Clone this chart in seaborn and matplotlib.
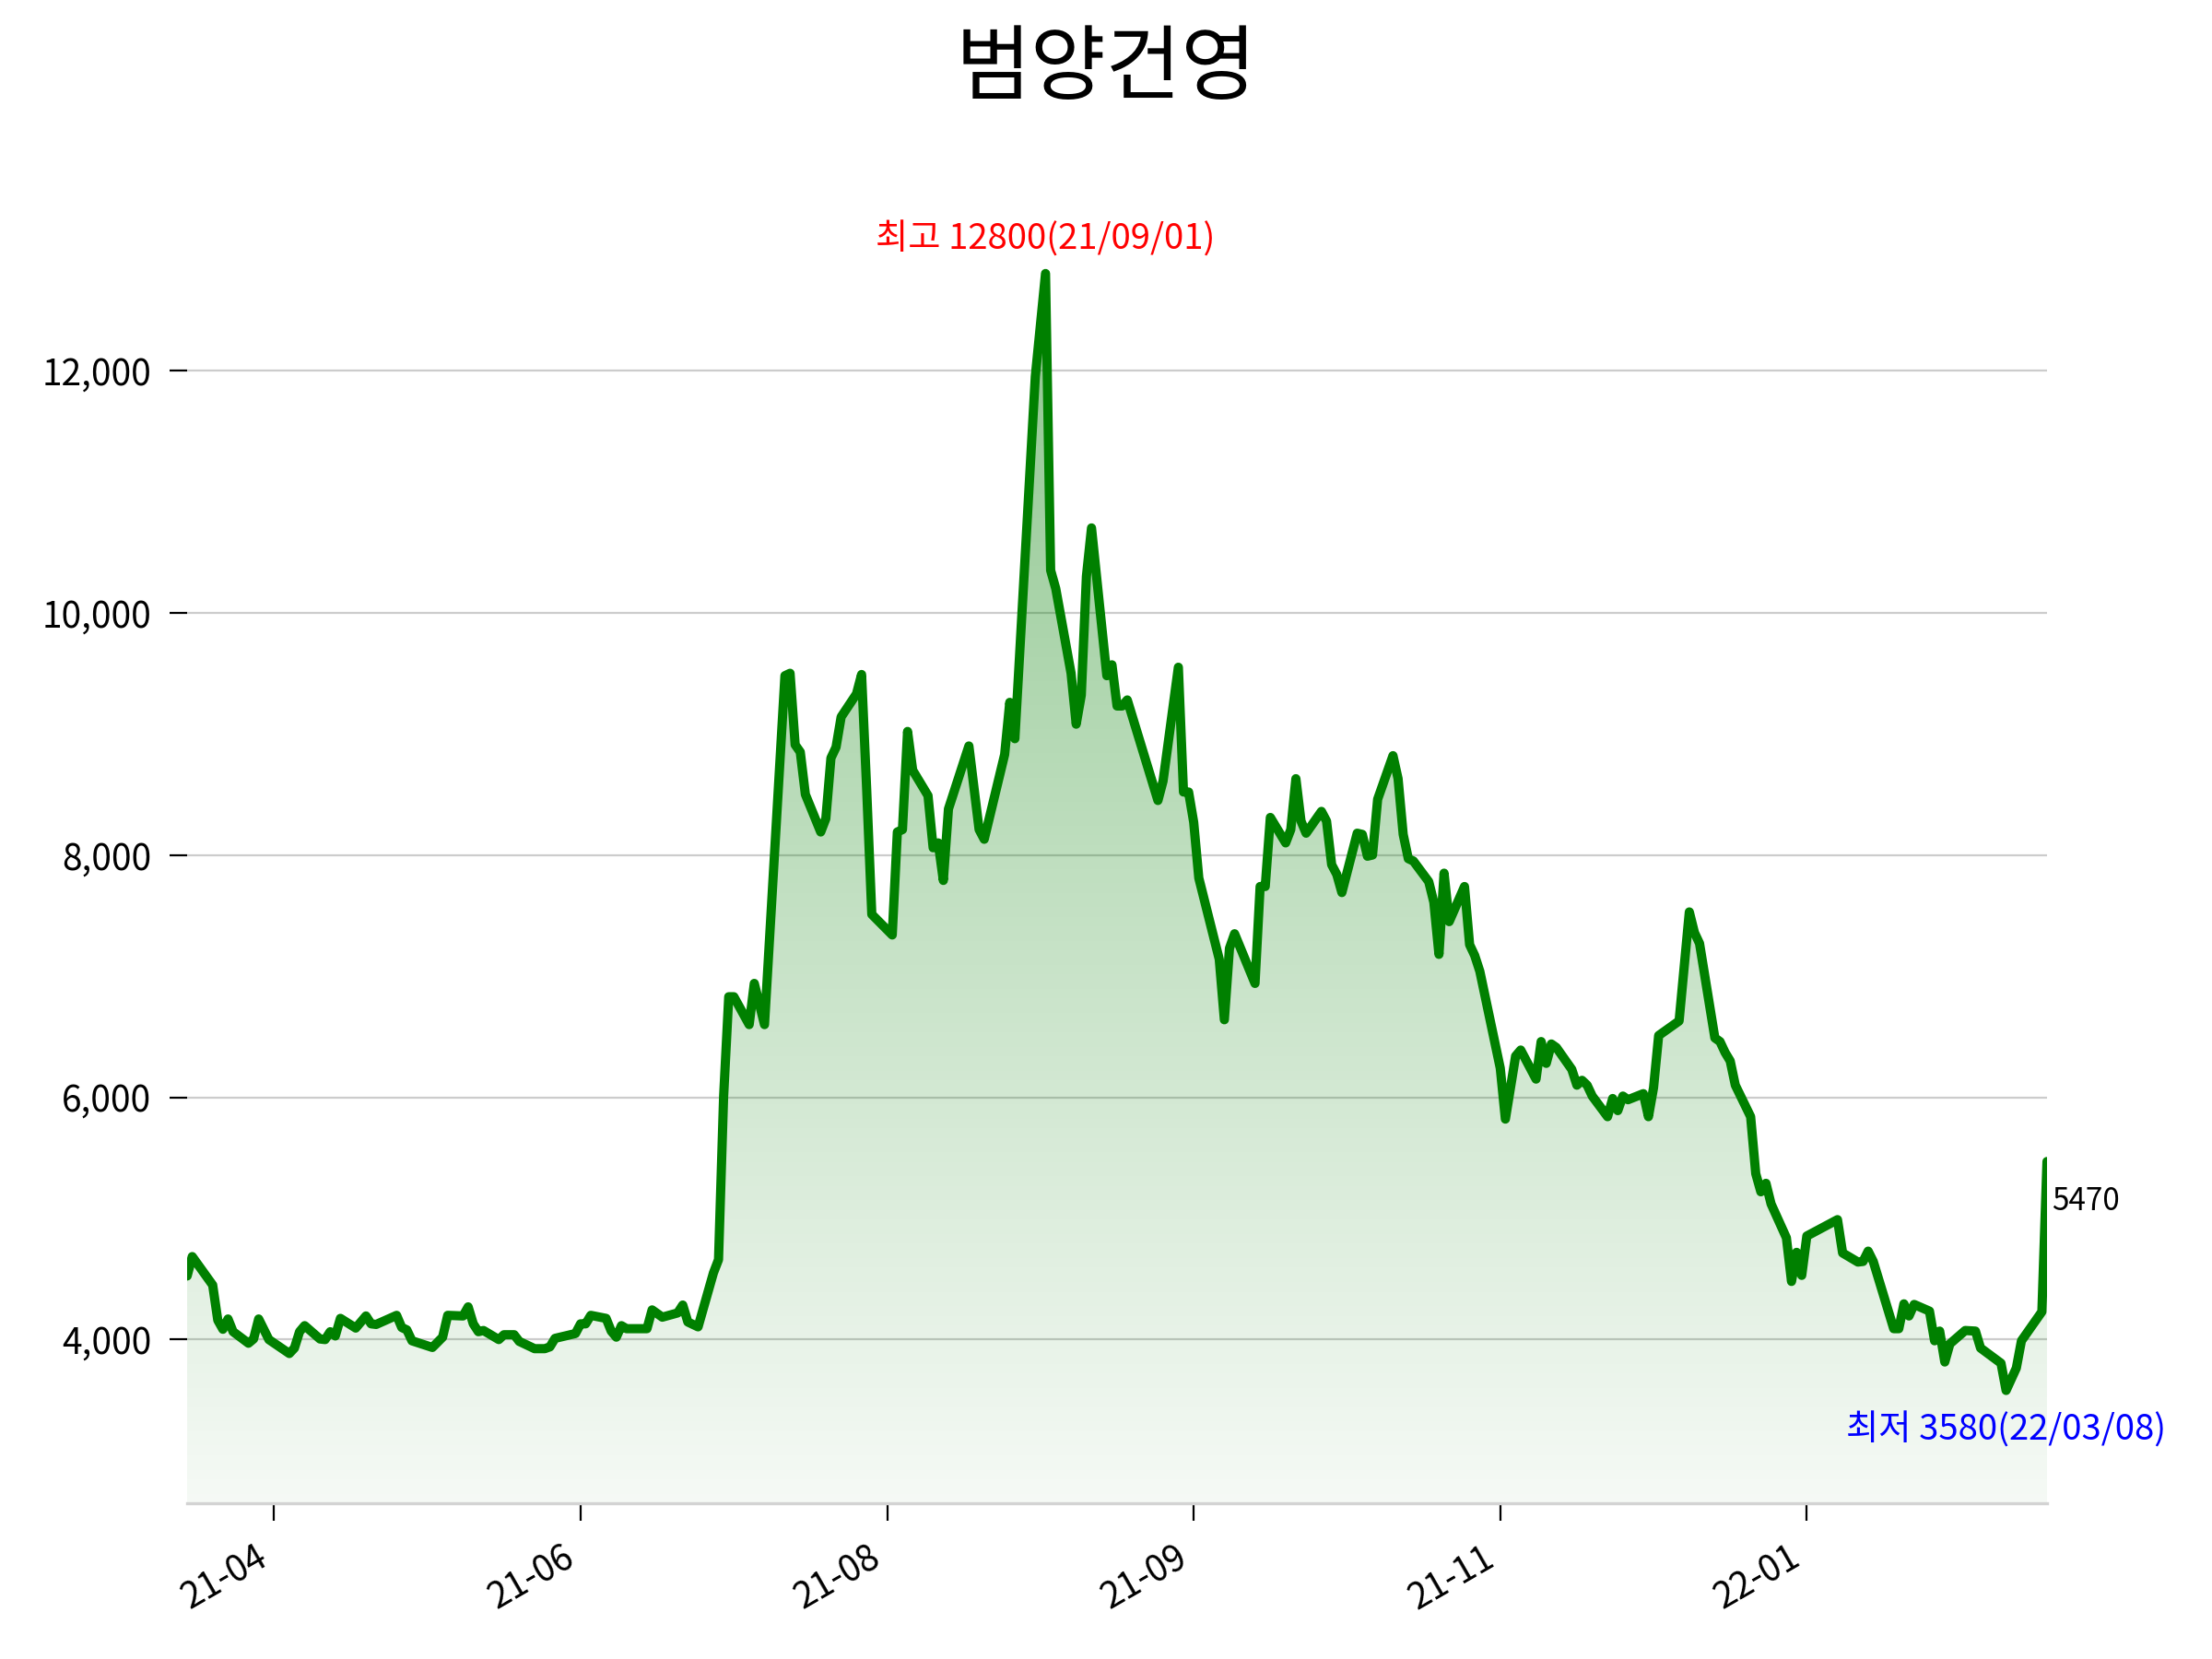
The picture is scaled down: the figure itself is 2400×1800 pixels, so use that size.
import numpy as np
import pandas as pd
import seaborn as sns
import matplotlib.pyplot as plt
import matplotlib.dates as mdates
from matplotlib.patches import PathPatch
from matplotlib.ticker import StrMethodFormatter

# 범양건영 daily close, turning points only (calendar days after the start date)
start_date = '2021-03-17'
day_offsets = [
    0, 1, 5, 6, 7, 8, 9, 12, 13, 14, 16, 20, 21, 22, 23, 26, 27, 28, 29, 30,
    33, 35, 36, 37, 41, 42, 43, 44, 48, 50, 51, 54, 55, 56, 57, 58, 61, 62, 64, 65,
    68, 70, 71, 72, 76, 77, 78, 79, 82, 83, 84, 85, 86, 90, 91, 93, 96, 97, 98, 100,
    103, 104, 105, 106, 107, 110, 111, 113, 117, 118, 119, 120, 121, 124, 125, 126, 127, 128, 131, 132,
    133, 134, 138, 139, 140, 141, 142, 145, 146, 147, 148, 149, 153, 155, 156, 160, 161, 162, 166, 168,
    169, 170, 173, 174, 175, 176, 177, 180, 181, 182, 183, 184, 190, 191, 194, 195, 196, 197, 198, 202,
    203, 204, 205, 209, 210, 211, 212, 215, 216, 217, 218, 219, 222, 223, 224, 225, 226, 229, 230, 231,
    232, 233, 236, 237, 238, 239, 240, 243, 244, 245, 246, 247, 250, 251, 252, 253, 257, 258, 260, 261,
    264, 265, 266, 267, 268, 271, 272, 273, 274, 275, 278, 279, 280, 281, 282, 285, 286, 287, 288, 292,
    294, 295, 296, 299, 300, 301, 302, 303, 306, 307, 308, 309, 310, 313, 314, 315, 316, 317, 323, 324,
    327, 328, 329, 330, 334, 335, 336, 337, 338, 341, 342, 343, 344, 345, 348, 350, 351, 355, 356, 358,
    359, 362, 363, 364,
]
prices = [
    4525, 4685, 4450, 4160, 4085, 4170, 4065, 3970, 4005, 4170, 4000, 3885, 3930, 4065, 4115, 4005, 4000, 4065, 4030, 4175,
    4095, 4195, 4130, 4125, 4200, 4100, 4080, 3990, 3935, 4020, 4200, 4195, 4270, 4130, 4065, 4075, 4000, 4040, 4040, 3985,
    3925, 3925, 3940, 4010, 4050, 4130, 4130, 4200, 4175, 4070, 4020, 4115, 4090, 4090, 4245, 4185, 4220, 4285, 4145, 4105,
    4550, 4660, 6010, 6830, 6830, 6600, 6940, 6600, 9480, 9500, 8910, 8850, 8500, 8190, 8300, 8800, 8890, 9140, 9330, 9490,
    8540, 7510, 7340, 8190, 8210, 9020, 8700, 8490, 8060, 8100, 7790, 8380, 8900, 8210, 8130, 8830, 9260, 8960, 11950, 12800,
    10350, 10200, 9500, 9080, 9320, 10300, 10700, 9480, 9570, 9230, 9230, 9280, 8450, 8610, 9550, 8520, 8520, 8270, 7810, 7140,
    6640, 7230, 7350, 6940, 7740, 7740, 8310, 8100, 8210, 8630, 8280, 8180, 8360, 8280, 7920, 7840, 7690, 8180, 8170, 7990,
    8000, 8460, 8820, 8630, 8170, 7970, 7950, 7780, 7610, 7180, 7850, 7450, 7740, 7260, 7170, 7040, 6240, 5820, 6340, 6390,
    6150, 6460, 6280, 6440, 6410, 6230, 6100, 6140, 6100, 6010, 5840, 5990, 5890, 6010, 5980, 6030, 5840, 6080, 6510, 6630,
    7530, 7360, 7270, 6490, 6460, 6370, 6300, 6100, 5840, 5370, 5220, 5290, 5120, 4840, 4480, 4720, 4530, 4855, 4990, 4715,
    4640, 4645, 4730, 4645, 4090, 4090, 4295, 4195, 4290, 4235, 3990, 4070, 3815, 3965, 4075, 4070, 3930, 3805, 3580, 3765,
    3990, 4170, 4230, 5470,
]

tick_dates = ['2021-04-03', '2021-06-02', '2021-08-01', '2021-09-30', '2021-11-29', '2022-01-28']
y_ticks = [4000, 6000, 8000, 10000, 12000]
title = '범양건영'

df = pd.DataFrame({
    'date': pd.Timestamp(start_date) + pd.to_timedelta(day_offsets, unit='D'),
    'price': prices,
})

sns.set_style('white')
plt.rcParams['font.family'] = ['Noto Sans CJK KR', 'DejaVu Sans']
plt.rcParams['text.color'] = 'black'
plt.rcParams['xtick.color'] = 'black'
plt.rcParams['ytick.color'] = 'black'

fig = plt.figure(figsize=(12, 9), dpi=200)
ax = fig.add_axes([0.0846, 0.0939, 0.8408, 0.8347])

hi = df.loc[df['price'].idxmax()]
lo = df.loc[df['price'].idxmin()]
y_low = lo['price'] * 0.74
y_high = hi['price'] * 1.1

sns.lineplot(data=df, x='date', y='price', color='green', linewidth=3.6, ax=ax, zorder=3)

# gradient fill under the line
fill = ax.fill_between(df['date'], df['price'], y_low, alpha=0)
clip = PathPatch(fill.get_paths()[0], transform=ax.transData, facecolor='none', edgecolor='none')
ax.add_patch(clip)
fill.remove()
rgba = np.zeros((256, 1, 4))
rgba[..., 1] = 0.5
rgba[..., 3] = np.linspace(0.04, 0.45, 256)[:, None]
x0, x1 = mdates.date2num(df['date'].iloc[0]), mdates.date2num(df['date'].iloc[-1])
im = ax.imshow(rgba, aspect='auto', origin='lower', extent=[x0, x1, y_low, hi['price']], zorder=2)
im.set_clip_path(clip)

ax.set_xlim(df['date'].iloc[0], df['date'].iloc[-1])
ax.set_ylim(y_low, y_high)

ax.set_yticks(y_ticks)
ax.yaxis.set_major_formatter(StrMethodFormatter('{x:,.0f}'))
ax.set_xticks(pd.to_datetime(tick_dates))
ax.xaxis.set_major_formatter(mdates.DateFormatter('%y-%m'))
plt.setp(ax.get_xticklabels(), rotation=30, ha='right')
ax.tick_params(axis='both', bottom=True, left=True, length=7, width=0.8,
               color='black', labelcolor='black', pad=7, labelsize=14)
ax.set_xlabel('')
ax.set_ylabel('')

ax.grid(axis='y', color='#cccccc', linewidth=0.8)
ax.set_axisbelow(True)
for side in ['left', 'right', 'top']:
    ax.spines[side].set_visible(False)
ax.spines['bottom'].set_color('#d3d3d3')
ax.spines['bottom'].set_linewidth(1.2)

ax.text(hi['date'], hi['price'] * 1.01, f"최고 {hi['price']}({hi['date'].strftime('%y/%m/%d')})",
        color='red', fontsize=13.8, ha='center', va='bottom')
ax.text(lo['date'], lo['price'] * 0.95, f"최저 {lo['price']}({lo['date'].strftime('%y/%m/%d')})",
        color='blue', fontsize=13.8, ha='center', va='top')
last = df.iloc[-1]
ax.annotate(f"{last['price']}", xy=(last['date'], last['price'] * 0.94), xytext=(2, 0),
            textcoords='offset points', fontsize=12, ha='left', va='center', annotation_clip=False)

fig.text(0.5, 1 - 76 / 1800, title, fontsize=32, ha='center', va='center', color='black')

fig.savefig('out.png', dpi=200)
